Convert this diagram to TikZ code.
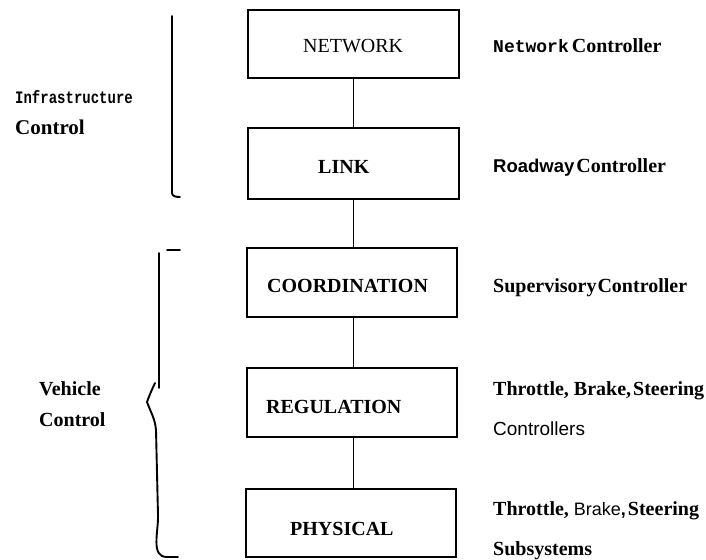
\documentclass[tikz,border=0pt]{standalone}
\usepackage{fontspec}
\setmainfont{Liberation Serif}
\newfontfamily\tyfont{Liberation Mono}
\newfontfamily\grfont{Liberation Sans}
\begin{document}
\begin{tikzpicture}[x=1pt,y=-1pt,
  layer/.style={draw,line width=1.4pt,inner sep=0pt},
  link/.style={line width=1.4pt},
  brace/.style={line width=1.9pt,line cap=round},
  lbl/.style={anchor=base west,inner sep=0pt,font=\fontsize{20}{24}\selectfont\bfseries},
]
\useasboundingbox (0,0) rectangle (706,559);

% hierarchy boxes
\node[layer,minimum width=211pt,minimum height=68pt] (net)   at (353.5,44)   {};
\node[layer,minimum width=211pt,minimum height=71pt] (lnk)   at (353.5,163.5){};
\node[layer,minimum width=210pt,minimum height=69pt] (coord) at (352,282.5)  {};
\node[layer,minimum width=210pt,minimum height=69pt] (reg)   at (352,402.5)  {};
\node[layer,minimum width=210pt,minimum height=68pt] (phys)  at (351,523)    {};

% connectors between layers
\coordinate (axis) at (353.5,0);
\draw[link] (axis |- net.south)   -- (axis |- lnk.north);
\draw[link] (axis |- lnk.south)   -- (axis |- coord.north);
\draw[link] (axis |- coord.south) -- (axis |- reg.north);
\draw[link] (axis |- reg.south)   -- (axis |- phys.north);

% layer names
\node[lbl,font=\fontsize{20}{24}\selectfont] (tnet) at (303,53) {NETWORK};
\node[lbl] (tlink)  at (318,173) {LINK};
\node[lbl] (tcoord) at (267,292) {COORDINATION};
\node[lbl] (treg)   at (266,413) {REGULATION};
\node[lbl] (tphys)  at (290,535) {PHYSICAL};

% controllers on the right
\node[lbl] (rnet)  at (493,53)  {{\tyfont\fontsize{18}{22}\selectfont Network}\hspace{3pt}Controller};
\node[lbl] (rroad) at (493,172) {{\grfont\fontsize{18.5}{22}\selectfont Roadway}\hspace{2pt}Controller};
\node[lbl] (rsup)  at (493,292) {Supervisory\hspace{1pt}Controller};
\node[lbl] (rthr1) at (493,395) {Throttle, Brake,\hspace{2pt}Steering};
\node[lbl,font=\grfont\fontsize{19}{23}\selectfont] (rctl) at (493,435) {Controllers};
\node[lbl] (rthr2) at (493,515) {Throttle, {\grfont\fontsize{18}{22}\selectfont\mdseries Brake\bfseries,}\hspace{2pt}Steering};
\node[lbl] (rsub)  at (493,555) {Subsystems};

% group labels on the left
\node[lbl,font=\tyfont\bfseries\fontsize{14}{17}\selectfont] (infra) at (15,104) {\scalebox{1}[1.25]{Infrastructure}};
\node[lbl,font=\fontsize{21}{25}\selectfont\bfseries] (ictl) at (15,135) {Control};
\node[lbl] (veh)  at (39,395) {Vehicle};
\node[lbl] (vctl) at (39,426) {Control};

% infrastructure bracket
\coordinate (ib0) at (172,16);
\coordinate (ib1) at (172,193);
\coordinate (ib2) at (180,197);
\draw[brace] (ib0) -- (ib1) to[out=270,in=180] (ib2);

% vehicle bracket
\coordinate (vt0) at (167,250);
\coordinate (vt1) at (180,250);
\draw[brace] (vt0) -- (vt1);
\coordinate (vl0) at (159,253);
\coordinate (vl1) at (159,388);
\draw[brace] (vl0) -- (vl1);
\coordinate (vc0) at (155,383);
\coordinate (vc1) at (147,402);
\coordinate (vc2) at (156,430);
\coordinate (vc3) at (158,515);
\coordinate (vc4) at (167,557);
\coordinate (vc5) at (178,557);
\draw[brace] (vc0) to[out=-115,in=70] (vc1) to[out=-70,in=95] (vc2)
  -- (vc3) to[out=-88,in=180] (vc4) -- (vc5);
\end{tikzpicture}
\end{document}
